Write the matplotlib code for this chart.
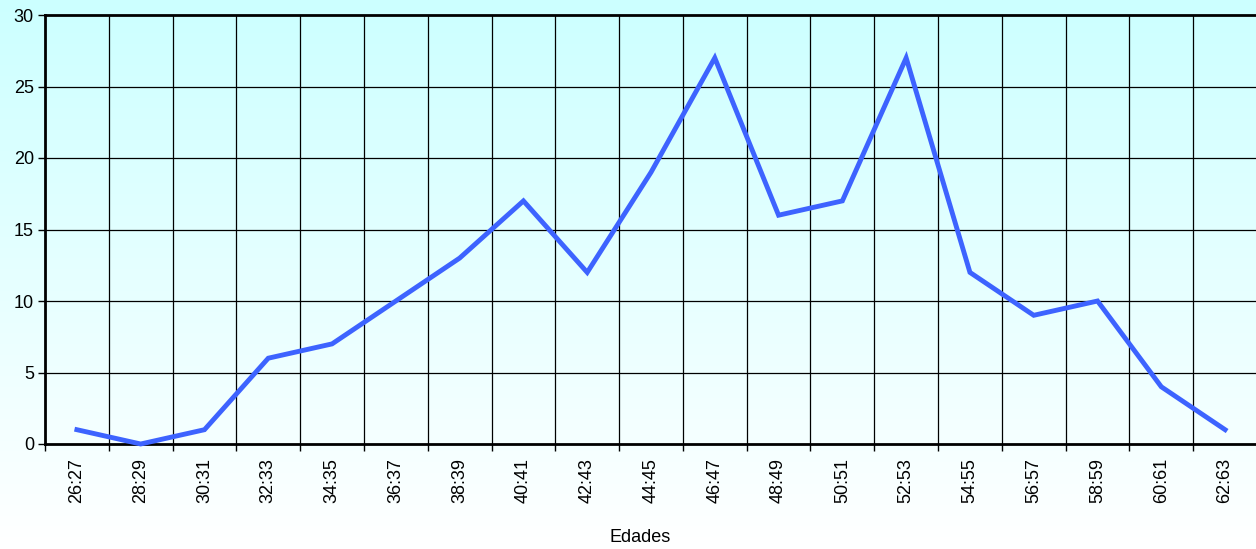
import numpy as np
import matplotlib
matplotlib.use("Agg")
import matplotlib.pyplot as plt
from matplotlib.colors import LinearSegmentedColormap

categories = ["26:27", "28:29", "30:31", "32:33", "34:35", "36:37", "38:39", "40:41",
              "42:43", "44:45", "46:47", "48:49", "50:51", "52:53", "54:55", "56:57",
              "58:59", "60:61", "62:63"]
values = [1, 0, 1, 6, 7, 10, 13, 17, 12, 19, 27, 16, 17, 27, 12, 9, 10, 4, 1]
y_ticks = [0, 5, 10, 15, 20, 25, 30]
x_label = "Edades"

plt.rcParams['font.family'] = ['Liberation Sans', 'DejaVu Sans']

W, H = 1256, 549
fig = plt.figure(figsize=(W / 100, H / 100), dpi=100)

# background gradient over the whole figure
bg = fig.add_axes([0, 0, 1, 1], zorder=-10)
cmap = LinearSegmentedColormap.from_list("g", ["#ccffff", "#ffffff"])
grad = np.linspace(0, 1, 256).reshape(-1, 1)
bg.imshow(grad, aspect="auto", cmap=cmap, extent=[0, 1, 0, 1], origin="upper")
bg.axis("off")

left, right, top, bottom = 45, 1257, 15, 444
ax = fig.add_axes([left / W, 1 - bottom / H, (right - left) / W, (bottom - top) / H])
ax.patch.set_alpha(0)

n = len(categories)
x = np.arange(n)
ax.plot(x, values, color="#3d63ff", lw=3.5, solid_joinstyle="miter", zorder=3, clip_on=False)

ax.set_xlim(-0.5, n - 0.5)
ax.set_ylim(0, 30)
ax.set_yticks(y_ticks)
ax.set_yticklabels([str(v) for v in y_ticks], fontsize=13)
ax.set_xticks(x)
ax.set_xticklabels(categories, rotation=90, fontsize=13)
ax.tick_params(axis="x", length=0, pad=10)
ax.tick_params(axis="y", length=5, width=1, pad=3)

# category boundaries: grid lines and small ticks
bounds = np.arange(-0.5, n, 1.0)
for b in bounds[1:-1]:
    ax.axvline(b, color="black", lw=0.9, zorder=1)
ax.set_xticks(bounds, minor=True)
ax.tick_params(axis="x", which="minor", length=5, width=1, direction="out")
for yv in y_ticks[1:-1]:
    ax.axhline(yv, color="black", lw=0.9, zorder=1)

for s in ["left", "bottom", "top"]:
    ax.spines[s].set_linewidth(2)
    ax.spines[s].set_color("black")
ax.spines["right"].set_visible(False)

fig.text(640 / W, 1 - 537 / H, x_label, ha="center", va="center", fontsize=13)

fig.savefig("out.png", dpi=100)
